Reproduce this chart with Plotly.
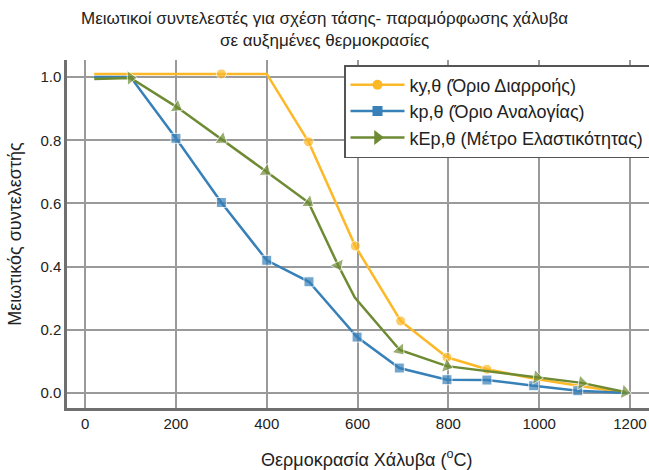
import plotly.graph_objects as go

# Data
ky_x = [20, 100, 200, 300, 400, 492, 595, 695, 797, 885, 990, 1090, 1195]
ky_y = [1.01, 1.01, 1.01, 1.01, 1.01, 0.795, 0.465, 0.228, 0.113, 0.075, 0.045, 0.022, 0.0]
ky_show = [False, False, False, True, False, True, True, True, True, True, False, False, False]

kp_x = [20, 100, 200, 300, 400, 493, 599, 692, 797, 885, 988, 1085, 1193]
kp_y = [1.0, 1.0, 0.806, 0.603, 0.42, 0.352, 0.177, 0.079, 0.042, 0.041, 0.023, 0.007, 0.0]
kp_show = [False, False, True, True, True, True, True, True, True, True, True, True, False]

kE_x = [20, 100, 202, 301, 398, 492, 557, 594, 693, 797, 995, 1094, 1189]
kE_y = [0.994, 0.997, 0.905, 0.803, 0.702, 0.603, 0.405, 0.302, 0.136, 0.085, 0.05, 0.032, 0.003]
kE_show = [True, True, True, True, True, True, True, False, True, True, True, True, True]

names = ["ky,θ (Όριο Διαρροής)", "kp,θ (Όριο Αναλογίας)", "kEp,θ (Μέτρο Ελαστικότητας)"]
x_ticks = [0, 200, 400, 600, 800, 1000, 1200]
y_ticks = [0.0, 0.2, 0.4, 0.6, 0.8, 1.0]

title = "Μειωτικοί συντελεστές για σχέση τάσης- παραμόρφωσης χάλυβα<br>σε αυξημένες θερμοκρασίες"
x_title = "Θερμοκρασία Χάλυβα (<sup>o</sup>C)"
y_title = "Μειωτικός συντελεστής"

YEL = "#FCB826"
BLU = "#3780B8"
GRN = "#6E8B34"

series = [
    (ky_x, ky_y, ky_show, YEL, "circle", 10, None),
    (kp_x, kp_y, kp_show, BLU, "square", 10, None),
    (kE_x, kE_y, kE_show, GRN, "triangle-up", 13, "previous"),
]

fig = go.Figure()
for (xs, ys, show, col, sym, sz, aref), nm in zip(series, names):
    mk = dict(symbol=sym, color=col, size=[sz if s else 0 for s in show])
    if aref:
        mk["angleref"] = aref
    fig.add_trace(go.Scatter(x=xs, y=ys, mode="lines+markers", showlegend=False,
                             hoverinfo="skip",
                             line=dict(color=col, width=2.5), marker=mk))
for (xs, ys, show, col, sym, sz, aref), nm in zip(series, names):
    lsym = "triangle-right" if aref else sym
    fig.add_trace(go.Scatter(x=[None], y=[None], mode="lines+markers", name=nm,
                             line=dict(color=col, width=2.5),
                             marker=dict(symbol=lsym, color=col, size=sz)))

font = "Liberation Sans, Arial, sans-serif"
W, H = 649, 470
L, R, T, B = 67, 0, 60, 62
pw, ph = W - L - R, H - T - B

fig.update_layout(
    width=W, height=H,
    margin=dict(l=L, r=R, t=T, b=B, autoexpand=False),
    paper_bgcolor="white", plot_bgcolor="white",
    font=dict(family=font, size=14, color="#222"),
    showlegend=True,
    legend=dict(x=(344 - L) / pw, y=(H - B - 65) / ph, xanchor="left", yanchor="top",
                bgcolor="white", bordercolor="#555", borderwidth=1.5,
                font=dict(size=18, color="#222"), tracegroupgap=0,
                itemwidth=54),
    xaxis=dict(range=[-40, 1242], tickvals=x_ticks, ticktext=[str(v) for v in x_ticks],
               showgrid=True, gridcolor="#9a9a9a", gridwidth=1.5, automargin=False,
               zeroline=False, showline=True, linecolor="#707070", linewidth=2.5,
               ticks="", tickfont=dict(size=15, color="#222")),
    yaxis=dict(range=[-0.0475, 1.054], tickvals=y_ticks, tickformat=".1f",
               showgrid=True, gridcolor="#9a9a9a", gridwidth=1.5, automargin=False,
               zeroline=False, showline=True, linecolor="#707070", linewidth=2.5,
               ticks="", tickfont=dict(size=15, color="#222"),
               title=dict(text=y_title, font=dict(size=18, color="#222"))),
    annotations=[
        dict(text=title, xref="paper", yref="paper",
             x=(W / 2 - L) / pw, y=(H - B - 7) / ph, xanchor="center", yanchor="top",
             showarrow=False, font=dict(size=17, color="#222"), align="center"),
        dict(text=x_title, xref="paper", yref="paper",
             x=(W / 2 + 42 - L) / pw, y=(H - B - 458) / ph, xanchor="center", yanchor="middle",
             showarrow=False, font=dict(size=18, color="#222")),
    ],
)

fig.write_html("out.html", config={"displayModeBar": False},
               post_script="document.body.style.margin='0px';")
